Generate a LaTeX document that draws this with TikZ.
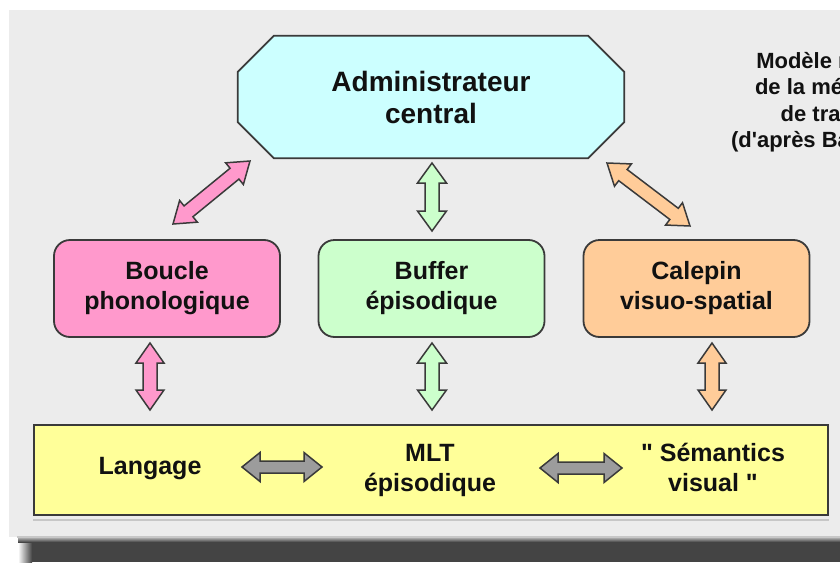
\documentclass[tikz,border=0pt]{standalone}
\usepackage{fontspec}
\newfontfamily\arialfont{Liberation Sans}
\usetikzlibrary{calc,backgrounds}
\definecolor{panel}{HTML}{ECECEC}
\definecolor{cyanfill}{HTML}{CCFFFF}
\definecolor{pinkfill}{HTML}{FF99CC}
\definecolor{greenfill}{HTML}{CCFFCC}
\definecolor{orangefill}{HTML}{FFCC99}
\definecolor{yellowfill}{HTML}{FFFF99}
\definecolor{grayarrow}{HTML}{9C9C9C}
\definecolor{edge}{HTML}{3A3A3A}
\definecolor{shadowdark}{HTML}{444444}
\definecolor{textdark}{HTML}{111111}

% block double arrow between two named coordinates
% #1 start, #2 end, #3 fill, #4 shaft half width, #5 head half width, #6 head length
\newcommand\blockarrow[6]{%
  \path let \p1=($(#2)-(#1)$) in \pgfextra{%
    \pgfmathsetmacro\BAlen{veclen(\x1,\y1)}%
    \pgfmathsetmacro\BAang{atan2(\y1,\x1)}%
    \global\let\BAlenG\BAlen \global\let\BAangG\BAang};
  \begin{scope}[shift={(#1)}, rotate=\BAangG, x=1pt, y=1pt]
    \draw[blockarrowstyle, fill=#3] (0,0) -- (#6,#5) -- (#6,#4) -- (\BAlenG-#6,#4)
      -- (\BAlenG-#6,#5) -- (\BAlenG,0) -- (\BAlenG-#6,-#5) -- (\BAlenG-#6,-#4)
      -- (#6,-#4) -- (#6,-#5) -- cycle;
  \end{scope}}

\begin{document}
\begin{tikzpicture}[x=1pt,y=-1pt,
  box/.style={draw=edge, line width=1.8pt, rounded corners=16pt,
    minimum width=226pt, minimum height=97pt, align=center, inner sep=0pt,
    text=textdark, font=\arialfont\fontsize{25}{30}\selectfont\bfseries},
  label/.style={align=center, inner sep=0pt, text=textdark,
    font=\arialfont\fontsize{25}{30}\selectfont\bfseries},
  octo/.style={draw=edge, line width=1.8pt, fill=cyanfill, line join=miter},
  blockarrowstyle/.style={draw=edge, line width=1.5pt, line join=miter},
  underline/.style={draw=black!22, line width=2pt}]
\useasboundingbox (0,0) rectangle (840,562);

% background panel and bottom shadow
\begin{scope}[on background layer]
\fill[panel] (9,10) rectangle (840,537);
\fill[shadowdark] (32,542) rectangle (840,562);
\shade[left color=white, right color=shadowdark] (18,542) rectangle (32,562);
\shade[top color=black!25, bottom color=shadowdark] (18,537) rectangle (840,542);
\draw[underline] (17,537) -- (840,537);
\end{scope}

% central executive
\node[label, font=\arialfont\fontsize{28}{32}\selectfont\bfseries,
  minimum width=386pt, minimum height=122pt] (admin) at (431,97) {Administrateur\\central};
\begin{scope}[on background layer]
\draw[octo] ([xshift=36pt]admin.north west) -- ([xshift=-36pt]admin.north east)
  -- ([yshift=-36pt]admin.north east) -- ([yshift=36pt]admin.south east)
  -- ([xshift=-36pt]admin.south east) -- ([xshift=36pt]admin.south west)
  -- ([yshift=36pt]admin.south west) -- ([yshift=-36pt]admin.north west) -- cycle;
\end{scope}

% title (cut off at the right edge, as in the reference)
\begin{scope}
\clip (0,0) rectangle (840,562);
\node[align=center, inner sep=0pt, text=textdark,
  font=\arialfont\fontsize{22}{26.5}\selectfont\bfseries] (title) at (829,102)
  {Modèle révisé\\de la mémoire\\de travail\\(d'après Baddeley)};
\end{scope}

% slave systems
\node[box, fill=pinkfill] (boucle) at (167,288.5) {Boucle\\phonologique};
\node[box, fill=greenfill] (buffer) at (431.5,288.5) {Buffer\\épisodique};
\node[box, fill=orangefill] (calepin) at (696.5,288.5) {Calepin\\visuo-spatial};

% long term memory bar
\node[draw=edge, line width=1.8pt, fill=yellowfill, minimum width=794pt,
  minimum height=90pt, inner sep=0pt] (bar) at (431,470) {};
\draw[underline] ([yshift=-4pt]bar.south west) -- ([yshift=-4pt]bar.south east);
\node[label] (langage) at (150,468.5) {Langage};
\node[label] (mlt) at (430,470) {MLT\\épisodique};
\node[label] (sem) at (713,467.5) {" Sémantics\\visual "};

% connector end points
\coordinate (pA) at (173,224);  \coordinate (pB) at (250,161);
\coordinate (gA) at (432,163);  \coordinate (gB) at (432,231);
\coordinate (oA) at (607,163);  \coordinate (oB) at (690,226);
\coordinate (pC) at (150,343);  \coordinate (pD) at (150,410);
\coordinate (gC) at (432,343);  \coordinate (gD) at (432,410);
\coordinate (oC) at (712,343);  \coordinate (oD) at (712,410);
\coordinate (lA) at (242,467);  \coordinate (lB) at (322,467);
\coordinate (rA) at (540,468);  \coordinate (rB) at (622,468);

% block arrows
\blockarrow{pA}{pB}{pinkfill}{7}{14}{20}
\blockarrow{gA}{gB}{greenfill}{7}{14.5}{20}
\blockarrow{oA}{oB}{orangefill}{7}{14}{20}
\blockarrow{pC}{pD}{pinkfill}{7}{14}{20}
\blockarrow{gC}{gD}{greenfill}{7}{14.5}{20}
\blockarrow{oC}{oD}{orangefill}{7}{14}{20}
\blockarrow{lA}{lB}{grayarrow}{6}{14.5}{18}
\blockarrow{rA}{rB}{grayarrow}{6}{14.5}{18}
\end{tikzpicture}
\end{document}
